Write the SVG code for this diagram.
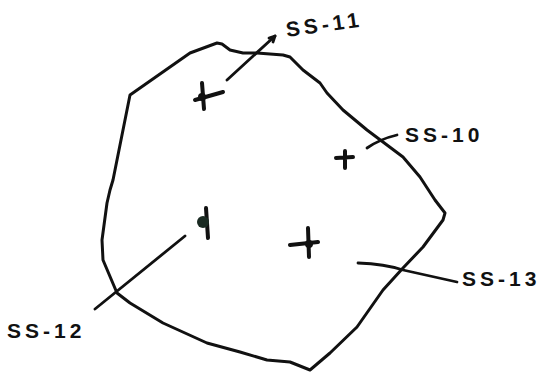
<svg xmlns="http://www.w3.org/2000/svg" width="547" height="373" viewBox="0 0 547 373">
<style>
.ink{fill:none;stroke:#111;stroke-linecap:round;stroke-linejoin:round}
.outline{stroke-width:3}
.plus{stroke-width:4}
.lead{stroke-width:2.8}
.lbl{font-family:"Liberation Sans",Arial,sans-serif;font-size:21px;font-weight:bold;fill:#111;letter-spacing:4px}
</style>
<rect width="547" height="373" fill="#fff"/>
<g id="site-boundary">
<path class="ink outline" d="M217,43 L222,44 L230,50 L243,53 L257,53 L283,55 L290,57 L303,70 L320,83 L327,93 L343,110 L367,130 L383,142 L403,157 L420,177 L435,200 L445,213 L443,220 L423,247 L403,268 L383,290 L357,327 L330,353 L310,370 L300,366 L290,362 L267,360 L240,352 L207,343 L163,323 L130,303 L117,293 L103,260 L102,240 L107,203 L110,190 L113,180 L130,95 L190,53 Z"/>
</g>
<g id="connectors">
<path class="ink lead" d="M227,80 L275,36"/>
<path class="ink lead" d="M269,38 L275,36 L273,42"/>
<path class="ink lead" d="M367,148 Q380,139 397,135"/>
<path class="ink lead" d="M185,236 L95,309"/>
<path class="ink lead" d="M358,263 Q385,264 403,270 Q430,276 457,282"/>
</g>
<g id="ss-11">
<path class="ink plus" d="M202,83 L204,109 M195,100 L223,92"/>
<circle cx="202" cy="97" r="4" fill="#111"/>
<text class="lbl" transform="translate(287,37) rotate(-8)">SS-11</text>
</g>
<g id="ss-10">
<path class="ink plus" d="M345,151 L345,168 M336,158 L353,157"/>
<text class="lbl" x="405" y="142">SS-10</text>
</g>
<g id="ss-12">
<path class="ink plus" d="M206,208 L208,238"/>
<circle cx="203" cy="222" r="6" fill="#1a2a22"/>
<text class="lbl" x="7" y="338">SS-12</text>
</g>
<g id="ss-13">
<path class="ink plus" d="M308,228 L309,257 M290,245 L318,242"/>
<circle cx="309" cy="244" r="4" fill="#111"/>
<text class="lbl" x="462" y="286">SS-13</text>
</g>
</svg>
